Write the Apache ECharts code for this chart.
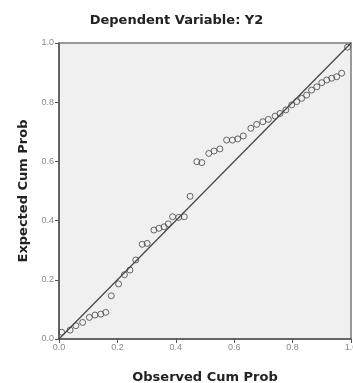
<!DOCTYPE html>
<html>
<head>
<meta charset="utf-8">
<script src="https://cdn.jsdelivr.net/npm/echarts@6/dist/echarts.min.js"></script>
<style>
  html, body { margin: 0; padding: 0; background: #fff; }
  #pp_chart { width: 353px; height: 383px; }
</style>
</head>
<body>
<div id="pp_chart"></div>
<script>
// 标题和坐标轴名称
const chartTitle = 'Dependent Variable: Y2';
const xAxisName = 'Observed Cum Prob';
const yAxisName = 'Expected Cum Prob';

// P-P 图的点（观测累计概率 / 期望累计概率）
const observedProb = [
  0.009, 0.038, 0.058, 0.081, 0.104, 0.123, 0.143, 0.160, 0.179, 0.204,
  0.224, 0.243, 0.263, 0.285, 0.302, 0.325, 0.342, 0.360, 0.374, 0.389,
  0.410, 0.429, 0.449, 0.472, 0.489, 0.513, 0.531, 0.551, 0.574, 0.594,
  0.612, 0.631, 0.657, 0.677, 0.698, 0.717, 0.740, 0.757, 0.777, 0.797,
  0.814, 0.831, 0.848, 0.865, 0.883, 0.900, 0.917, 0.934, 0.951, 0.968,
  0.988
];
const expectedProb = [
  0.023, 0.030, 0.045, 0.056, 0.073, 0.081, 0.084, 0.090, 0.146, 0.186,
  0.217, 0.233, 0.267, 0.320, 0.323, 0.368, 0.374, 0.379, 0.389, 0.413,
  0.411, 0.413, 0.482, 0.599, 0.596, 0.627, 0.635, 0.642, 0.672, 0.672,
  0.676, 0.686, 0.712, 0.725, 0.734, 0.742, 0.753, 0.762, 0.774, 0.791,
  0.802, 0.813, 0.824, 0.841, 0.852, 0.866, 0.875, 0.881, 0.886, 0.898,
  0.986
];

// 对角参考线
const refLineX = [0, 1];
const refLineY = [0, 1];

const chartDom = document.getElementById('pp_chart');
const ppChart = echarts.init(chartDom);

const axisCommon = {
  type: 'value',
  min: 0,
  max: 1,
  interval: 0.2,
  nameLocation: 'middle',
  nameTextStyle: {
    color: '#222',
    fontSize: 13,
    fontWeight: 'bold',
    fontFamily: 'DejaVu Sans'
  },
  axisLine: {
    show: true,
    onZero: false,
    lineStyle: { color: '#555', width: 1.5 }
  },
  axisTick: {
    show: true,
    length: 4,
    lineStyle: { color: '#555', width: 1 }
  },
  axisLabel: {
    color: '#888',
    fontSize: 9,
    fontFamily: 'Liberation Sans',
    formatter: v => v.toFixed(1)
  },
  splitLine: { show: false }
};

const option = {
  backgroundColor: '#fff',
  animation: false,
  title: {
    text: chartTitle,
    left: 'center',
    top: 9,
    textStyle: {
      color: '#222',
      fontSize: 13,
      fontWeight: 'bold',
      fontFamily: 'DejaVu Sans'
    }
  },
  grid: {
    left: 59,
    right: 2,
    top: 43,
    bottom: 44,
    outerBoundsMode: 'none',
    show: true,
    backgroundColor: '#f0f0f0',
    borderColor: '#999',
    borderWidth: 2
  },
  xAxis: Object.assign({}, axisCommon, {
    name: xAxisName,
    nameGap: 32,
    axisLabel: Object.assign({}, axisCommon.axisLabel, { margin: 4 })
  }),
  yAxis: Object.assign({}, axisCommon, {
    name: yAxisName,
    nameGap: 27,
    axisLabel: Object.assign({}, axisCommon.axisLabel, { margin: 5 })
  }),
  series: [
    {
      type: 'line',
      data: refLineX.map((x, i) => [x, refLineY[i]]),
      showSymbol: false,
      lineStyle: { color: '#444', width: 1.2 },
      z: 3
    },
    {
      type: 'scatter',
      data: observedProb.map((x, i) => [x, expectedProb[i]]),
      symbol: 'circle',
      symbolSize: 6,
      itemStyle: {
        color: 'transparent',
        borderColor: '#444',
        borderWidth: 1
      },
      z: 4
    }
  ]
};

ppChart.setOption(option);
</script>
</body>
</html>
